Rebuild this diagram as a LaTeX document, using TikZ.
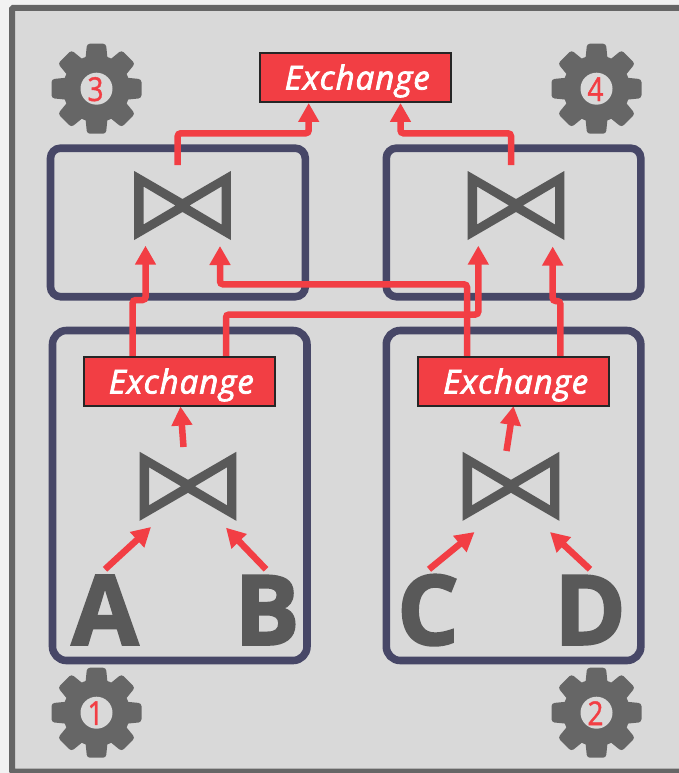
\documentclass[tikz,border=0pt]{standalone}
\usepackage{fontspec}
\setmainfont{Open Sans}
\newfontfamily\heavyfont[BoldFeatures={FakeBold=2.2}]{Open Sans}
\newfontfamily\semifont[FakeBold=2.4,LetterSpace=3]{Open Sans}
\newfontfamily\numfont[FakeBold=1.2]{Open Sans}
\usetikzlibrary{arrows.meta}
\definecolor{pagebg}{HTML}{F2F2F2}
\definecolor{panelbg}{HTML}{D9D9D9}
\definecolor{framegray}{HTML}{666666}
\definecolor{navy}{HTML}{474767}
\definecolor{redc}{HTML}{F23E44}
\definecolor{darkg}{HTML}{595959}
\definecolor{edgeblack}{HTML}{262626}
\tikzset{
  fragment/.style={draw=navy,line width=7.6pt,rounded corners=10pt},
  flow/.style={draw=redc,line width=6.5pt,rounded corners=3pt,line cap=butt,
    -{Triangle[width=20pt,length=19pt]},shorten >=0pt},
  exch/.style={draw=edgeblack,fill=redc,line width=2pt,minimum width=191.3pt,minimum height=48.4pt,
    inner sep=0pt,text=white,text height=24pt,text depth=0pt,font=\fontsize{33}{33}\semifont\itshape},
  relname/.style={text=darkg,inner sep=0pt,anchor=base,font=\fontsize{97}{97}\heavyfont\bfseries},
  gearnum/.style={text=redc,inner sep=0pt,xscale=.85,font=\fontsize{33}{33}\numfont},
}
\newcommand{\joinicon}[2]{%
  \begin{scope}[shift={(#1,#2)}]
    \fill[darkg,even odd rule] (-48.3,-34.5) -- (0,-6.5) -- (48.3,-34.5) -- (48.3,34.5) -- (0,6.5) -- (-48.3,34.5) -- cycle
      (-39,-19) -- (-39,19) -- (-7,0) -- cycle
      (39,-19) -- (39,19) -- (7,0) -- cycle;
  \end{scope}}
\newcommand{\gearicon}[4]{%
  \begin{scope}[shift={(#1,#2)}]
    \fill[framegray] (0,0) circle (33.5);
    \foreach \a in {0,45,...,315}{
      \fill[framegray,rounded corners=3pt,rotate=\a] (-11.5,-25) -- (-9.5,-45) -- (9.5,-45) -- (11.5,-25) -- cycle;
    }
    \fill[panelbg] (0,0) circle (16);
  \end{scope}
  \node[gearnum] (#3) at (#1-1,#2+0.5) {#4};}
\begin{document}
\begin{tikzpicture}[x=1pt,y=-1pt]
\useasboundingbox (0,0) rectangle (679,773);
\clip (0,0) rectangle (679,773);
\fill[pagebg] (0,0) rectangle (679,773);
\draw[framegray,fill=panelbg,line width=6pt,rounded corners=1pt] (12,8) rectangle (700,771.5);

% fragment boxes
\draw[fragment] (50.5,148.2) rectangle (305.3,296.7);
\draw[fragment] (386.3,148.2) rectangle (640.8,296.7);
\draw[fragment,rounded corners=14pt] (52.5,330.5) rectangle (307,660.5);
\draw[fragment,rounded corners=14pt] (386.3,330.5) rectangle (640.8,660.5);

% joins
\joinicon{182.5}{205.5}
\joinicon{516}{205.5}
\joinicon{188}{486.3}
\joinicon{511}{486.3}

% relations
\node[relname] (A) at (105,644.7) {A};
\node[relname] (B) at (267,644.7) {B};
\node[relname] (C) at (428,644.7) {C};
\node[relname] (D) at (590,644.7) {D};

% gears
\gearicon{96.5}{88.7}{g3}{3}
\gearicon{596.5}{88.7}{g4}{4}
\gearicon{96.5}{712.7}{g1}{1}
\gearicon{596.5}{712.7}{g2}{2}

% connector ends
\coordinate (j3out) at (177.7,165);
\coordinate (j4out) at (511,165);
\coordinate (top3in) at (308.7,103);
\coordinate (top4in) at (400.5,103);
\coordinate (j3a) at (145.5,245.7);
\coordinate (j3b) at (220,246);
\coordinate (j4a) at (478.3,245.7);
\coordinate (j4b) at (552.7,246.5);
\coordinate (e1a) at (132.7,358);
\coordinate (e1b) at (226,358);
\coordinate (e2a) at (467,358);
\coordinate (e2b) at (560.3,358);
\coordinate (j1out) at (183.5,447);
\coordinate (e1in) at (180.5,406.5);
\coordinate (j2out) at (506.5,451);
\coordinate (e2in) at (513.5,406);
\coordinate (a0) at (105,569.3);
\coordinate (a1) at (151,527);
\coordinate (b0) at (266,569.3);
\coordinate (b1) at (226,527.7);
\coordinate (c0) at (429,569.3);
\coordinate (c1) at (474.5,532);
\coordinate (d0) at (590,569.3);
\coordinate (d1) at (550,532);

% red connectors
\draw[flow] (j3out) -- (j3out |- 0,133.3) -- (top3in |- 0,133.3) -- (top3in);
\draw[flow] (j4out) -- (j4out |- 0,133.3) -- (top4in |- 0,133.3) -- (top4in);
\draw[flow] (e1a) -- (e1a |- 0,300) -- (j3a |- 0,300) -- (j3a);
\draw[flow] (e1b) -- (e1b |- 0,314.5) -- (j4a |- 0,314.5) -- (j4a);
\draw[flow] (e2a) -- (e2a |- 0,284.3) -- (j3b |- 0,284.3) -- (j3b);
\draw[flow] (e2b) -- (e2b |- 0,301) -- (j4b |- 0,301) -- (j4b);
\draw[flow] (j1out) -- (e1in);
\draw[flow] (j2out) -- (e2in);
\draw[flow] (a0) -- (a1);
\draw[flow] (b0) -- (b1);
\draw[flow] (c0) -- (c1);
\draw[flow] (d0) -- (d1);

% exchange operators
\node[exch] (x0) at (355.3,77.5) {\hspace*{4pt}Exchange};
\node[exch] (x1) at (179.3,381.5) {\hspace*{4pt}Exchange};
\node[exch] (x2) at (513.7,381.5) {\hspace*{4pt}Exchange};
\end{tikzpicture}
\end{document}
